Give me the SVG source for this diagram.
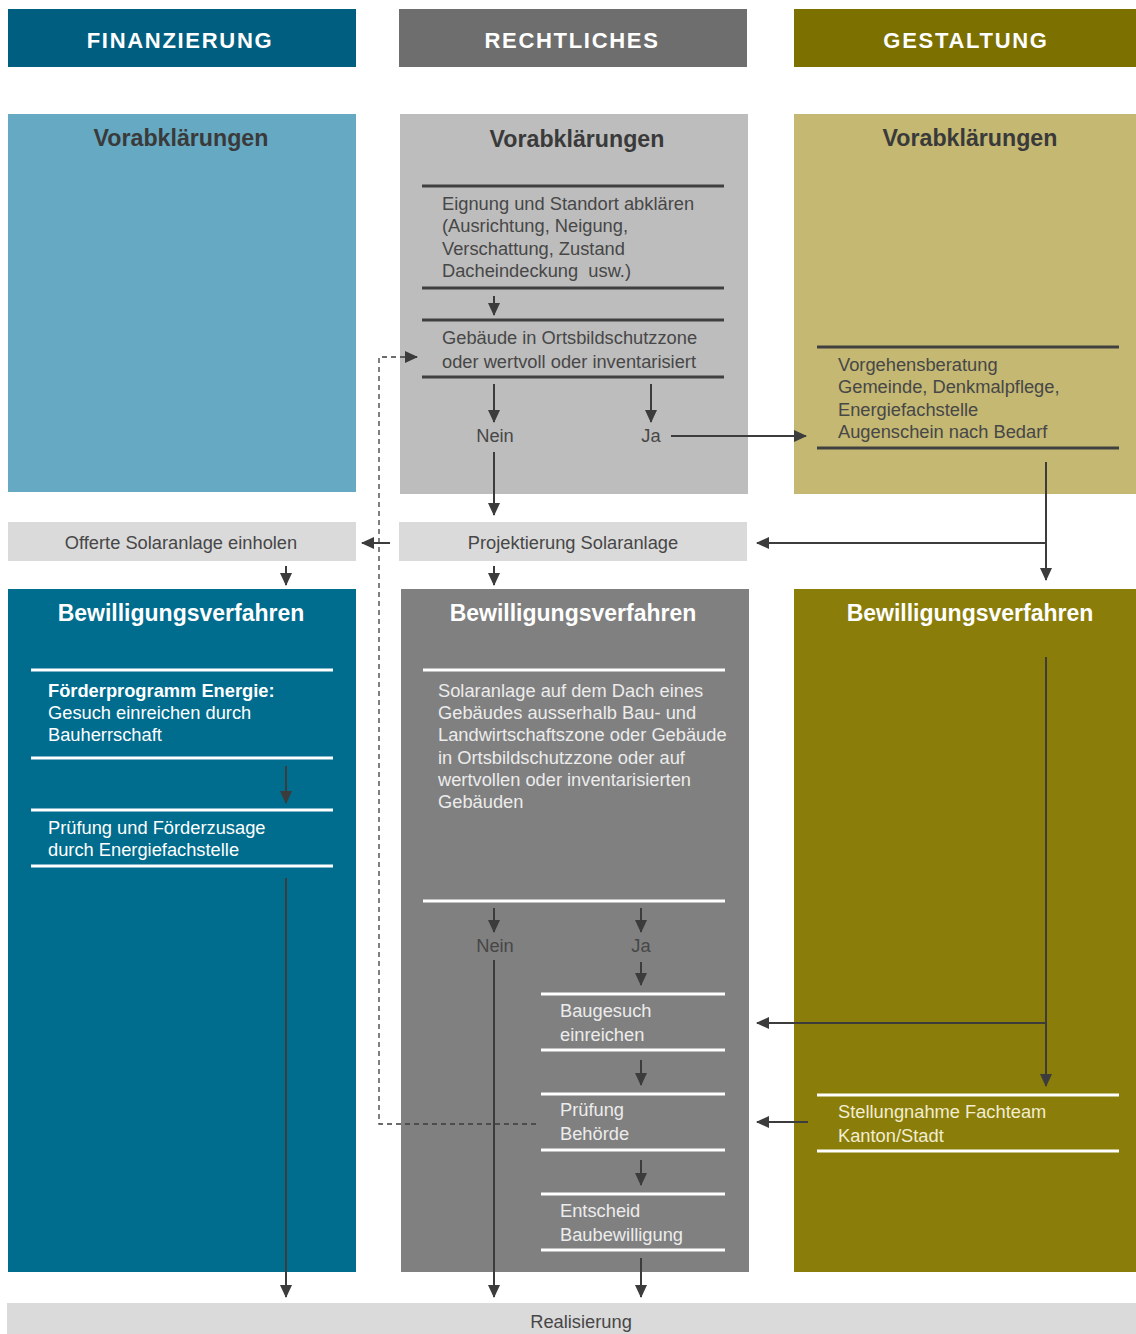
<svg xmlns="http://www.w3.org/2000/svg" width="1136" height="1334" viewBox="0 0 1136 1334">
<defs>
<marker id="ah" markerUnits="userSpaceOnUse" markerWidth="13" markerHeight="12" refX="12" refY="6" orient="auto"><path d="M0,0 L13,6 L0,12 z" fill="#3c3c3c"/></marker>
<style>
text{font-family:"Liberation Sans",Arial,sans-serif}
.hd{font-size:22px;font-weight:bold;fill:#fff;letter-spacing:1.7px;text-anchor:middle}
.t1{font-size:23.2px;font-weight:bold;fill:#3a3a3a;text-anchor:middle}
.t2{font-size:23px;font-weight:bold;fill:#fff;text-anchor:middle}
.tx{font-size:18.3px;fill:#474747}
.tw{font-size:18.3px;fill:#fff}
.tg{font-size:18.3px;fill:#ececec}
.ty{font-size:18.3px;fill:#f2edd0}
.c{text-anchor:middle}
.dl{stroke:#404040;stroke-width:3}
.wl{stroke:#fff;stroke-width:3}
.ar{stroke:#3c3c3c;stroke-width:2;fill:none;marker-end:url(#ah)}
.ln{stroke:#3c3c3c;stroke-width:2;fill:none}
.ds{stroke:#3c3c3c;stroke-width:1.3;fill:none;stroke-dasharray:5,4}
</style>
</defs>
<g id="header-finanzierung"><rect x="8" y="9" width="348" height="58" fill="#005F80"/><text class="hd" x="180" y="48">FINANZIERUNG</text></g>
<g id="header-rechtliches"><rect x="399" y="9" width="348" height="58" fill="#6E6E6E"/><text class="hd" x="572" y="48">RECHTLICHES</text></g>
<g id="header-gestaltung"><rect x="794" y="9" width="342" height="58" fill="#7B7000"/><text class="hd" x="966" y="48">GESTALTUNG</text></g>

<g id="vorab-fin"><rect x="8" y="114" width="348" height="378" fill="#66A9C3"/><text class="t1" x="181" y="146">Vorabklärungen</text></g>
<g id="vorab-recht"><rect x="400" y="114" width="348" height="380" fill="#BDBDBD"/><text class="t1" x="577" y="147">Vorabklärungen</text>
<line class="dl" x1="422" y1="186" x2="724" y2="186"/>
<text class="tx" x="442" y="210">Eignung und Standort abklären</text>
<text class="tx" x="442" y="232">(Ausrichtung, Neigung,</text>
<text class="tx" x="442" y="255">Verschattung, Zustand</text>
<text class="tx" x="442" y="277" xml:space="preserve">Dacheindeckung  usw.)</text>
<line class="dl" x1="422" y1="288" x2="724" y2="288"/>
<line class="dl" x1="422" y1="320" x2="724" y2="320"/>
<text class="tx" x="442" y="344">Gebäude in Ortsbildschutzzone</text>
<text class="tx" x="442" y="368">oder wertvoll oder inventarisiert</text>
<line class="dl" x1="422" y1="377" x2="724" y2="377"/>
<text class="tx c" x="495" y="442">Nein</text>
<text class="tx c" x="651" y="442">Ja</text>
</g>
<g id="vorab-gest"><rect x="794" y="114" width="342" height="380" fill="#C4B873"/><text class="t1" x="970" y="146">Vorabklärungen</text>
<line class="dl" x1="817" y1="347" x2="1119" y2="347"/>
<text class="tx" x="838" y="371">Vorgehensberatung</text>
<text class="tx" x="838" y="393">Gemeinde, Denkmalpflege,</text>
<text class="tx" x="838" y="416">Energiefachstelle</text>
<text class="tx" x="838" y="438">Augenschein nach Bedarf</text>
<line class="dl" x1="817" y1="448" x2="1119" y2="448"/>
</g>

<g id="offerte"><rect x="8" y="522" width="348" height="39" fill="#DADADA"/><text class="tx c" x="181" y="549">Offerte Solaranlage einholen</text></g>
<g id="projektierung"><rect x="399" y="522" width="348" height="39" fill="#DADADA"/><text class="tx c" x="573" y="549">Projektierung Solaranlage</text></g>

<g id="bew-fin"><rect x="8" y="589" width="348" height="683" fill="#006C8E"/><text class="t2" x="181" y="621">Bewilligungsverfahren</text>
<line class="wl" x1="31" y1="670" x2="333" y2="670"/>
<text class="tw" x="48" y="697" font-weight="bold">Förderprogramm Energie:</text>
<text class="tw" x="48" y="719">Gesuch einreichen durch</text>
<text class="tw" x="48" y="741">Bauherrschaft</text>
<line class="wl" x1="31" y1="758" x2="333" y2="758"/>
<line class="wl" x1="31" y1="810" x2="333" y2="810"/>
<text class="tw" x="48" y="834">Prüfung und Förderzusage</text>
<text class="tw" x="48" y="856">durch Energiefachstelle</text>
<line class="wl" x1="31" y1="866" x2="333" y2="866"/>
</g>
<g id="bew-recht"><rect x="401" y="589" width="348" height="683" fill="#808080"/><text class="t2" x="573" y="621">Bewilligungsverfahren</text>
<line class="wl" x1="423" y1="670" x2="725" y2="670"/>
<text class="tg" x="438" y="697">Solaranlage auf dem Dach eines</text>
<text class="tg" x="438" y="719">Gebäudes ausserhalb Bau- und</text>
<text class="tg" x="438" y="741">Landwirtschaftszone oder Gebäude</text>
<text class="tg" x="438" y="764">in Ortsbildschutzzone oder auf</text>
<text class="tg" x="438" y="786">wertvollen oder inventarisierten</text>
<text class="tg" x="438" y="808">Gebäuden</text>
<line class="wl" x1="423" y1="901" x2="725" y2="901"/>
<text class="tx c" x="495" y="952" fill="#4a4a4a">Nein</text>
<text class="tx c" x="641" y="952" fill="#4a4a4a">Ja</text>
<line class="wl" x1="541" y1="994" x2="725" y2="994"/>
<text class="tg" x="560" y="1017">Baugesuch</text>
<text class="tg" x="560" y="1041">einreichen</text>
<line class="wl" x1="541" y1="1050" x2="725" y2="1050"/>
<line class="wl" x1="541" y1="1094" x2="725" y2="1094"/>
<text class="tg" x="560" y="1116">Prüfung</text>
<text class="tg" x="560" y="1140">Behörde</text>
<line class="wl" x1="541" y1="1150" x2="725" y2="1150"/>
<line class="wl" x1="541" y1="1194" x2="725" y2="1194"/>
<text class="tg" x="560" y="1217">Entscheid</text>
<text class="tg" x="560" y="1241">Baubewilligung</text>
<line class="wl" x1="541" y1="1250" x2="725" y2="1250"/>
</g>
<g id="bew-gest"><rect x="794" y="589" width="342" height="683" fill="#8A7D0A"/><text class="t2" x="970" y="621">Bewilligungsverfahren</text>
<line class="wl" x1="817" y1="1095" x2="1119" y2="1095"/>
<text class="ty" x="838" y="1118">Stellungnahme Fachteam</text>
<text class="ty" x="838" y="1142">Kanton/Stadt</text>
<line class="wl" x1="817" y1="1151" x2="1119" y2="1151"/>
</g>

<g id="realisierung"><rect x="7" y="1303" width="1129" height="31" fill="#DADADA"/><text class="tx c" x="581" y="1328">Realisierung</text></g>

<g id="connectors">
<line class="ar" x1="494" y1="296" x2="494" y2="315"/>
<line class="ar" x1="494" y1="384" x2="494" y2="422"/>
<line class="ar" x1="651" y1="384" x2="651" y2="422"/>
<line class="ar" x1="671" y1="436" x2="806" y2="436"/>
<line class="ar" x1="494" y1="452" x2="494" y2="515"/>
<polyline class="ds" points="536,1124 379,1124 379,357 406,357"/>
<line class="ar" x1="405" y1="357" x2="417" y2="357"/>
<line class="ar" x1="390" y1="543" x2="362" y2="543"/>
<line class="ln" x1="1046" y1="462" x2="1046" y2="543"/>
<line class="ar" x1="1046" y1="543" x2="1046" y2="580"/>
<line class="ar" x1="1046" y1="543" x2="757" y2="543"/>
<line class="ar" x1="286" y1="566" x2="286" y2="585"/>
<line class="ar" x1="494" y1="566" x2="494" y2="585"/>
<line class="ar" x1="286" y1="766" x2="286" y2="803"/>
<line class="ar" x1="286" y1="878" x2="286" y2="1297"/>
<line class="ar" x1="494" y1="908" x2="494" y2="932"/>
<line class="ar" x1="641" y1="908" x2="641" y2="932"/>
<line class="ar" x1="494" y1="960" x2="494" y2="1297"/>
<line class="ar" x1="641" y1="962" x2="641" y2="985"/>
<line class="ar" x1="641" y1="1060" x2="641" y2="1085"/>
<line class="ar" x1="641" y1="1160" x2="641" y2="1185"/>
<line class="ar" x1="641" y1="1258" x2="641" y2="1297"/>
<line class="ln" x1="1046" y1="657" x2="1046" y2="1023"/>
<line class="ar" x1="1046" y1="1023" x2="1046" y2="1086"/>
<line class="ar" x1="1046" y1="1023" x2="757" y2="1023"/>
<line class="ar" x1="808" y1="1122" x2="757" y2="1122"/>
</g>
</svg>
